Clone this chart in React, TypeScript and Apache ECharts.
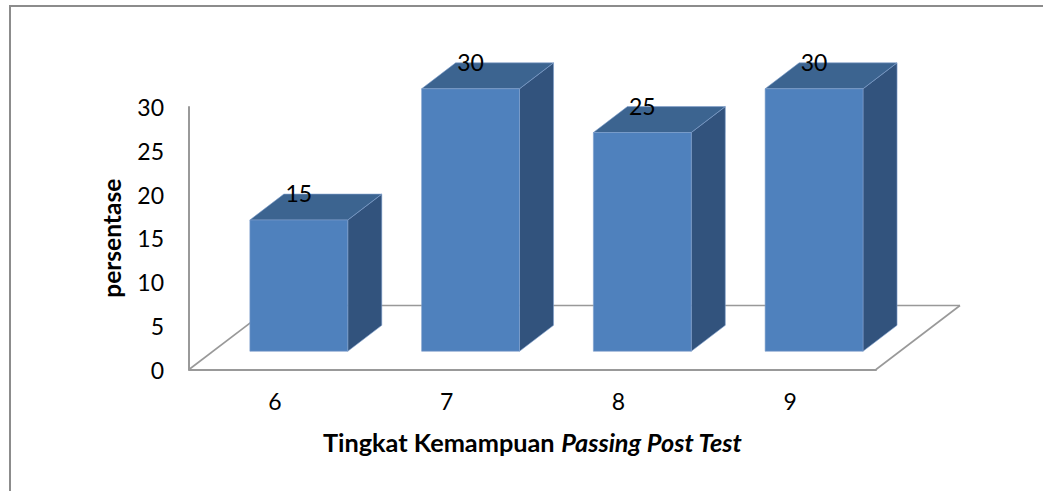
import React, { useEffect, useRef } from "react";
import * as echarts from "echarts";

const categories = ["6", "7", "8", "9"];
const values = [15, 30, 25, 30];
const yTicks = { min: 0, max: 30, interval: 5 };
const yTitle = "persentase";
const xTitleA = "Tingkat Kemampuan ";
const xTitleB = "Passing Post Test";

const FONT = "Lato, 'Open Sans', sans-serif";
const DEPTH_X = 84;
const DEPTH_Y = -64;
const FRONT_DEPTH = 0.285;
const BACK_DEPTH = 0.69;
const BAR_RATIO = 0.57;
const FRONT = "#4F81BD";
const TOP = "#3C6490";
const SIDE = "#32537D";
const EDGE = "#7F9FCC";

export default function App() {
  const ref = useRef<HTMLDivElement>(null);
  useEffect(() => {
    if (!ref.current) return;
    const chart = echarts.init(ref.current, null, { renderer: "svg" });
    const barData = categories.map((c, i) => [i, values[i]]);
    chart.setOption({
      animation: false,
      backgroundColor: "#fff",
      graphic: [
        {
          type: "rect",
          shape: { x: 10, y: 6, width: 1200, height: 700 },
          style: { fill: "none", stroke: "#8c8c8c", lineWidth: 2 },
          silent: true,
          z: 0,
        },
      ],
      grid: { left: 189, top: 107, width: 687, height: 262.5, containLabel: false },
      xAxis: {
        type: "category",
        data: categories,
        axisLine: { show: true, lineStyle: { color: "#999", width: 2 } },
        axisTick: { show: false },
        axisLabel: { color: "#000", fontSize: 23, fontFamily: FONT, margin: 20 },
        name: "{a|" + xTitleA + "}{b|" + xTitleB + "}",
        nameLocation: "middle",
        nameGap: 60,
        nameTextStyle: {
          rich: {
            a: { fontSize: 25.3, fontWeight: "bold", fontFamily: FONT, color: "#000" },
            b: { fontSize: 25.3, fontWeight: "bold", fontStyle: "italic", fontFamily: FONT, color: "#000" },
          },
        },
      },
      yAxis: {
        type: "value",
        min: yTicks.min,
        max: yTicks.max,
        interval: yTicks.interval,
        axisLine: { show: true, lineStyle: { color: "#999", width: 2 } },
        axisTick: { show: false },
        splitLine: { show: false },
        axisLabel: { color: "#000", fontSize: 23, fontFamily: FONT, margin: 25 },
        name: yTitle,
        nameLocation: "middle",
        nameGap: 65,
        nameTextStyle: { fontSize: 24.5, fontWeight: "bold", fontFamily: FONT, color: "#000" },
      },
      series: [
        {
          type: "custom",
          name: "floor",
          data: [[0, 0]],
          clip: false,
          z: 1,
          silent: true,
          renderItem: (params: any) => {
            const cs = params.coordSys;
            const x0 = cs.x;
            const x1 = cs.x + cs.width;
            const y0 = cs.y + cs.height;
            const ls = { stroke: "#999", lineWidth: 1.6 };
            return {
              type: "group",
              children: [
                { type: "line", shape: { x1: x0, y1: y0, x2: x0 + DEPTH_X, y2: y0 + DEPTH_Y }, style: ls },
                { type: "line", shape: { x1: x0 + DEPTH_X, y1: y0 + DEPTH_Y, x2: x1 + DEPTH_X, y2: y0 + DEPTH_Y }, style: ls },
                { type: "line", shape: { x1: x1, y1: y0, x2: x1 + DEPTH_X, y2: y0 + DEPTH_Y }, style: ls },
              ],
            };
          },
        },
        {
          type: "custom",
          name: "bars",
          data: barData,
          clip: false,
          z: 2,
          renderItem: (params: any, api: any) => {
            const idx = api.value(0);
            const v = api.value(1);
            const base = api.coord([idx, 0]);
            const top = api.coord([idx, v]);
            const band = api.size([1, 0])[0];
            const w = band * BAR_RATIO;
            const h = base[1] - top[1];
            const fx = base[0] + DEPTH_X * FRONT_DEPTH - w / 2;
            const fy = base[1] + DEPTH_Y * FRONT_DEPTH;
            const dx = DEPTH_X * (BACK_DEPTH - FRONT_DEPTH);
            const dy = DEPTH_Y * (BACK_DEPTH - FRONT_DEPTH);
            const edge = { stroke: EDGE, lineWidth: 0.6 };
            return {
              type: "group",
              children: [
                {
                  type: "polygon",
                  shape: { points: [[fx + w, fy], [fx + w + dx, fy + dy], [fx + w + dx, fy - h + dy], [fx + w, fy - h]] },
                  style: { fill: SIDE, ...edge },
                },
                {
                  type: "polygon",
                  shape: { points: [[fx, fy - h], [fx + w, fy - h], [fx + w + dx, fy - h + dy], [fx + dx, fy - h + dy]] },
                  style: { fill: TOP, ...edge },
                },
                {
                  type: "polygon",
                  shape: { points: [[fx, fy], [fx + w, fy], [fx + w, fy - h], [fx, fy - h]] },
                  style: { fill: FRONT, ...edge },
                },
                {
                  type: "text",
                  style: {
                    text: String(v),
                    x: fx + w / 2,
                    y: fy - h - 27,
                    align: "center",
                    verticalAlign: "middle",
                    fontSize: 23,
                    fontFamily: FONT,
                    fill: "#000",
                  },
                },
              ],
            };
          },
        },
      ],
    });
    return () => chart.dispose();
  }, []);
  return (
    <div
      ref={ref}
      style={{ position: "fixed", left: 0, top: 0, width: 1043, height: 491, background: "#fff" }}
    />
  );
}
